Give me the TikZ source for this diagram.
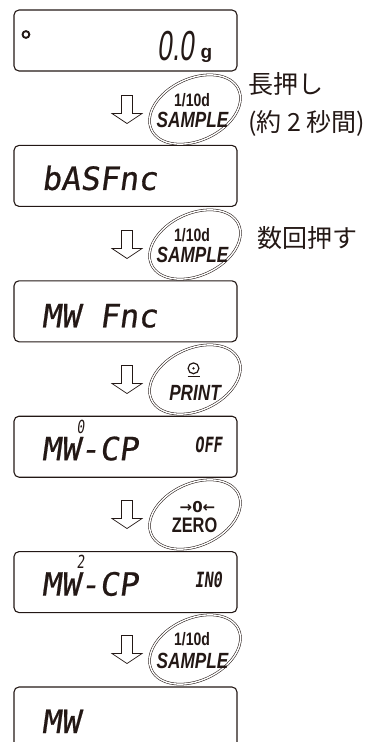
\documentclass[tikz,border=0pt]{standalone}
\usepackage{fontspec}
\usepackage{tikz}
\usetikzlibrary{shapes.geometric, positioning, calc}
\newfontfamily\jpfont{Noto Sans CJK JP}
\newfontfamily\keyfont[FakeStretch=0.78]{Liberation Sans}
\newfontfamily\plainsans{Liberation Sans}
\newfontfamily\lcdfont[FakeSlant=0.14, FakeBold=0.6]{DejaVu Sans Mono}
\newfontfamily\lcdsmall[FakeStretch=0.72, FakeSlant=0.12]{DejaVu Sans Mono}
\newfontfamily\lcdwide[FakeStretch=0.62, FakeSlant=0.12]{Liberation Sans}
\newfontfamily\symfont{DejaVu Sans}
\definecolor{ink}{RGB}{35,24,21}

\begin{document}
\begin{tikzpicture}[x=1pt, y=-1pt,
    lcd/.style={draw=ink, line width=1.1pt, rounded corners=5pt, minimum width=223pt, minimum height=61pt, inner sep=0pt},
    keyring/.style={ellipse, draw=ink, double, double distance=1.4pt, line width=0.55pt, minimum width=96pt, minimum height=62pt, inner sep=0pt, rotate=25},
    hollowarrow/.style={draw=ink, line width=0.7pt, fill=white, line join=miter},
    keytop/.style={font=\keyfont\bfseries\fontsize{18}{18}\selectfont, text=ink, anchor=base, inner sep=0pt},
    keybot/.style={font=\keyfont\bfseries\itshape\fontsize{22}{22}\selectfont, text=ink, anchor=base, inner sep=0pt},
    seg/.style={font=\lcdfont\fontsize{32}{32}\selectfont, text=ink, anchor=base west, inner sep=0pt},
    segsup/.style={font=\lcdsmall\fontsize{18}{18}\selectfont, text=ink, anchor=base, inner sep=0pt},
    segtail/.style={font=\lcdsmall\bfseries\fontsize{21}{21}\selectfont, text=ink, anchor=base west, inner sep=0pt},
    note/.style={font=\jpfont\fontsize{25}{25}\selectfont, text=ink, anchor=west, inner sep=0pt}]
    \useasboundingbox (0,0) rectangle (374,742);

    % Displays
    \foreach \i in {1,...,6} {
      \node[lcd] (disp\i) at (125.5, {40.5+135.4*(\i-1)}) {};
    }
    % Keys
    \foreach \i in {1,...,5} {
      \node[keyring] (key\i) at (195, {109.5+135*(\i-1)}) {};
    }
    % Down arrows next to the keys
    \foreach \k in {1,...,5} {
      \draw[hollowarrow] ($(key\k.center)+(-73.5,-14)$) -- ++(11,0) -- ++(0,18) -- ++(9.5,0)
        -- ++(-15,10) -- ++(-15,-10) -- ++(9.5,0) -- cycle;
    }

    % Display readouts
    \draw[ink, line width=1.9pt] ($(disp1.west)+(12.5,-6)$) circle (3.4);
    \node[font=\lcdwide\fontsize{42}{42}\selectfont, text=ink, anchor=base west, inner sep=0pt] (zero) at ($(disp1.west)+(144,19.5)$) {0.0};
    \node[font=\plainsans\bfseries\fontsize{19}{19}\selectfont, text=ink, anchor=base west, inner sep=0pt] (unit) at ($(disp1.west)+(187,18)$) {g};
    \node[seg] (basf) at ($(disp2.west)+(28,14)$) {bASFnc};
    \node[seg] (mwf) at ($(disp3.west)+(28,16)$) {MW Fnc};
    \node[seg] (mwcp) at ($(disp4.west)+(28,13.5)$) {MW-CP};
    \node[segsup] (cpnum) at ($(disp4.west)+(67,-13.5)$) {0};
    \node[segtail] (cpoff) at ($(disp4.west)+(181,5.5)$) {OFF};
    \node[seg] (mwcpb) at ($(disp5.west)+(28,13.5)$) {MW-CP};
    \node[segsup] (cpnumb) at ($(disp5.west)+(67,-13.5)$) {2};
    \node[segtail] (cpin) at ($(disp5.west)+(181,5.5)$) {IN0};
    \node[seg] (mw) at ($(disp6.west)+(28,15.5)$) {MW};

    % Key faces
    \node[keytop] (k1a) at ($(key1.center)+(-3,-3)$) {1/10d};
    \node[keybot] (k1b) at ($(key1.center)+(-2.5,17.5)$) {SAMPLE};
    \node[keytop] (k2a) at ($(key2.center)+(-3,-3)$) {1/10d};
    \node[keybot] (k2b) at ($(key2.center)+(-2.5,17.5)$) {SAMPLE};
    \draw[ink, line width=1.2pt] ($(key3.center)+(-1.5,-11.2)$) circle (5.4);
    \fill[ink] ($(key3.center)+(-1.5,-11.2)$) circle (1.3);
    \draw[ink, line width=1.2pt] ($(key3.center)+(-7.5,-3)$) -- ($(key3.center)+(4.5,-3)$);
    \node[keybot] (k3b) at ($(key3.center)+(0,20.5)$) {PRINT};
    \node[font=\symfont\bfseries\fontsize{15}{15}\selectfont, text=ink, anchor=base, inner sep=0pt] (k4a) at ($(key4.center)+(2.5,-2.5)$) {→0←};
    \node[font=\keyfont\bfseries\fontsize{21}{21}\selectfont, text=ink, anchor=base, inner sep=0pt] (k4b) at ($(key4.center)+(-0.5,17.5)$) {ZERO};
    \node[keytop] (k5a) at ($(key5.center)+(-3,-4)$) {1/10d};
    \node[keybot] (k5b) at ($(key5.center)+(-2.5,18.5)$) {SAMPLE};

    % Notes
    \node[note] (hold) at ($(key1.center)+(53,-25.5)$) {長押し};
    \node[note] (holdtime) at ($(key1.center)+(53,13.5)$) {(約 2 秒間)};
    \node[note] (repeat) at ($(key2.center)+(62,-6.5)$) {数回押す};
  \end{tikzpicture}
\end{document}
